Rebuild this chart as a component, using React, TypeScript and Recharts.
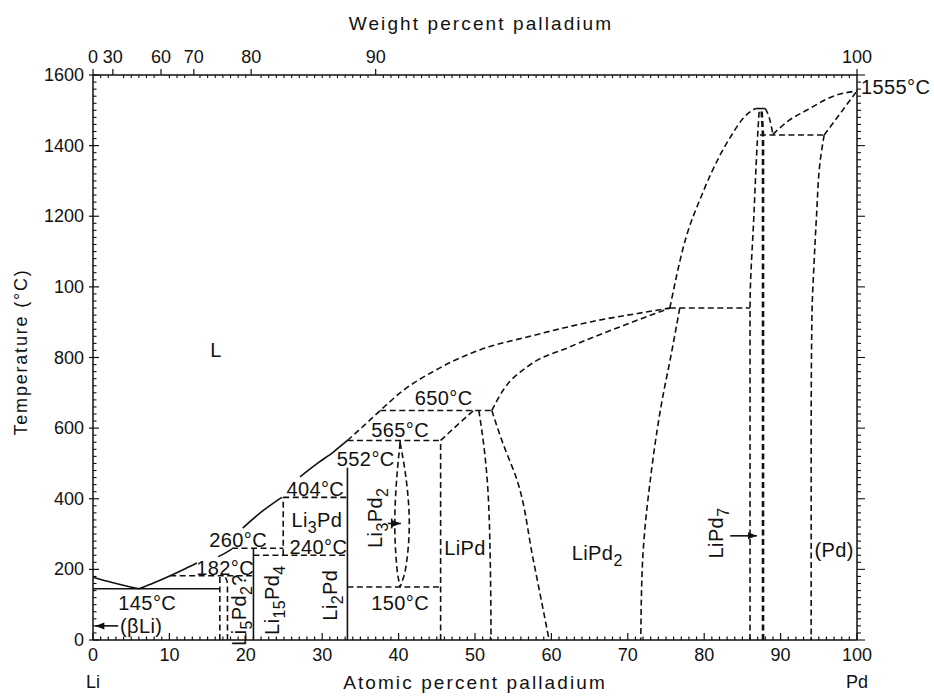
import { ComposedChart, Line, Scatter, XAxis, YAxis } from "recharts";

type Pt = [number, number];

const INK = "#111111";
const FONT = '"Liberation Sans", Arial, Helvetica, sans-serif';

// axes
const atMajor = [0, 10, 20, 30, 40, 50, 60, 70, 80, 90, 100];
const tempMajor = [0, 200, 400, 600, 800, 1000, 1200, 1400, 1600];
const tempLabels = ["0", "200", "400", "600", "800", "100", "1200", "1400", "1600"];
const wtPos = [0, 2.6, 8.9, 13.2, 20.7, 37.0, 100]; // weight % ticks placed on atomic % scale
const wtLabels = ["0", "30", "60", "70", "80", "90", "100"];

const atTicks = Array.from({ length: 101 }, (_, i) => i);
const tempTicks = Array.from({ length: 81 }, (_, i) => i * 20);
const topTicks = [...atTicks.filter(v => !wtPos.some(w => Math.abs(w - v) < 0.45)), ...wtPos];

// solid boundaries (x = at.% Pd, t = °C)
const liqLi: Pt[] = [[0, 178], [2.5, 163], [6, 145]];
const eut145: Pt[] = [[0, 145], [16.6, 145]];
const liqA1: Pt[] = [[6, 145], [8, 162], [10.1, 182], [12, 201], [13.6, 218]];
const liqA2: Pt[] = [[16.4, 236], [17.3, 246], [18.2, 258]];
const liqB: Pt[] = [[19.6, 317], [22, 362], [24.7, 404]];
const liqC: Pt[] = [[27.1, 462], [29.5, 502], [31.5, 533], [33.3, 565]];
const li15Pd4: Pt[] = [[21, 0], [21, 260]];
const li2Pd: Pt[] = [[33.3, 0], [33.3, 488]];

// dashed boundaries
const d182: Pt[] = [[10.1, 182], [21, 182]];
const li5Pd2L: Pt[] = [[16.6, 0], [16.6, 182]];
const li5Pd2R: Pt[] = [[17.6, 0], [17.6, 160], [17.2, 182]];
const d260: Pt[] = [[18.2, 260], [24.9, 260]];
const d240: Pt[] = [[21, 240], [33.3, 240]];
const li3PdL: Pt[] = [[24.9, 240], [24.9, 404]];
const d404: Pt[] = [[24.9, 404], [33.3, 404]];
const d565: Pt[] = [[33.3, 565], [45.5, 565]];
const d150: Pt[] = [[33.3, 150], [45.5, 150]];
const liPdL: Pt[] = [[45.5, 0], [45.5, 565]];
const lensTop: Pt[] = [[40.2, 565], [40.2, 558]];
const lensL: Pt[] = [[40.2, 558], [39.8, 470], [39.5, 331], [39.8, 200], [40.2, 150]];
const lensR: Pt[] = [[40.2, 558], [40.9, 470], [41.4, 331], [40.9, 200], [40.2, 150]];
const liPdPer: Pt[] = [[45.5, 565], [47.6, 607], [49.8, 650]];
const d650: Pt[] = [[37.6, 650], [52.2, 650]];
const liqD: Pt[] = [[33.3, 565], [35.5, 608], [37.6, 650], [40.5, 705], [44.5, 760], [50.7, 822], [57.2, 860], [65.4, 902], [73.3, 932], [75.5, 940]];
const liPdR: Pt[] = [[50.5, 650], [51.1, 560], [51.6, 453], [52, 220], [52.1, 0]];
const liPd2L: Pt[] = [[52.2, 650], [53.6, 560], [55.5, 453], [57.6, 230], [59.7, 0]];
const liPd2Up: Pt[] = [[52.2, 650], [53.7, 708], [56.8, 773], [62.4, 830], [69, 887], [75.5, 940]];
const d940: Pt[] = [[75.5, 940], [86, 940]];
const liPd2R: Pt[] = [[76.8, 940], [75.6, 800], [74.5, 680], [73.6, 560], [72.9, 445], [72.3, 330], [71.9, 207], [71.7, 0]];
const liqE: Pt[] = [[75.5, 940], [77.3, 1115], [79.8, 1266], [82, 1370], [83.6, 1430], [85.2, 1480], [86.7, 1505]];
const cap: Pt[] = [[86.7, 1505], [88, 1505]];
const liqF: Pt[] = [[88, 1505], [88.5, 1480], [89, 1432]];
const liqPd: Pt[] = [[89, 1432], [91, 1470], [93.4, 1500], [96.9, 1540], [100, 1555]];
const d1430: Pt[] = [[87.3, 1430], [95.7, 1430]];
const pdSolidus: Pt[] = [[95.7, 1430], [100, 1555]];
const pdSolvus: Pt[] = [[95.7, 1430], [95.2, 1360], [94.7, 1200], [94.4, 1076], [94.1, 915], [94, 600], [94, 0]];
const liPd7L: Pt[] = [[86, 0], [86, 940], [86.5, 1200], [87, 1430], [87.2, 1500]];
const liPd7R: Pt[] = [[87.7, 0], [87.7, 1430], [87.5, 1505]];

// arrows
const arrowBLi: Pt[] = [[3.3, 40], [0.3, 40]];
const arrowLi3Pd2: Pt[] = [[38.6, 330], [40.3, 330]];
const tickLi3Pd2: Pt[] = [[39.1, 316], [39.1, 344]];
const arrowLiPd7: Pt[] = [[83.4, 295], [86.9, 295]];

// spans the top / right axes so they get a domain
const frame: Pt[] = [[0, 0], [100, 1600]];

type Series = { pts: Pt[]; dash?: boolean; w?: number; curve?: string; head?: "left" | "right" };

const series: Series[] = [
  { pts: liqLi, curve: "monotoneX" },
  { pts: eut145 },
  { pts: liqA1, curve: "monotoneX" },
  { pts: liqA2, curve: "monotoneX" },
  { pts: liqB, curve: "monotoneX" },
  { pts: liqC, curve: "monotoneX" },
  { pts: li15Pd4 },
  { pts: li2Pd },
  { pts: d182, dash: true },
  { pts: li5Pd2L, dash: true },
  { pts: li5Pd2R, dash: true, curve: "monotoneY" },
  { pts: d260, dash: true },
  { pts: d240, dash: true },
  { pts: li3PdL, dash: true },
  { pts: d404, dash: true },
  { pts: d565, dash: true },
  { pts: d150, dash: true },
  { pts: liPdL, dash: true },
  { pts: lensTop, dash: true },
  { pts: lensL, dash: true, curve: "monotoneY" },
  { pts: lensR, dash: true, curve: "monotoneY" },
  { pts: liPdPer, dash: true, curve: "monotoneX" },
  { pts: d650, dash: true },
  { pts: liqD, dash: true, curve: "monotoneX" },
  { pts: liPdR, dash: true, curve: "monotoneY" },
  { pts: liPd2L, dash: true, curve: "monotoneY" },
  { pts: liPd2Up, dash: true, curve: "monotoneX" },
  { pts: d940, dash: true },
  { pts: liPd2R, dash: true, curve: "monotoneY" },
  { pts: liqE, dash: true, curve: "monotoneX" },
  { pts: cap },
  { pts: liqF, dash: true, curve: "monotoneX" },
  { pts: liqPd, dash: true, curve: "monotoneX" },
  { pts: d1430, dash: true },
  { pts: pdSolidus, dash: true },
  { pts: pdSolvus, dash: true, curve: "monotoneY" },
  { pts: liPd7L, dash: true, curve: "monotoneY" },
  { pts: liPd7R, dash: true, w: 2.6 },
  { pts: arrowBLi, head: "left" },
  { pts: arrowLi3Pd2, head: "right" },
  { pts: tickLi3Pd2 },
  { pts: arrowLiPd7, head: "right" },
];

// annotations ("_n" = subscript)
const labels = [
  { x: 16.1, t: 822, text: "L" },
  { x: 7.1, t: 105, text: "145°C" },
  { x: 6.3, t: 40, text: "(βLi)" },
  { x: 17.3, t: 204, text: "182°C" },
  { x: 19.0, t: 283, text: "260°C" },
  { x: 29.1, t: 428, text: "404°C" },
  { x: 29.3, t: 341, text: "Li_3Pd" },
  { x: 29.5, t: 264, text: "240°C" },
  { x: 19.1, t: 85, text: "Li_5Pd_2?", rot: -90 },
  { x: 23.4, t: 113, text: "Li_15Pd_4", rot: -90 },
  { x: 31.0, t: 127, text: "Li_2Pd", rot: -90 },
  { x: 35.7, t: 513, text: "552°C" },
  { x: 40.2, t: 595, text: "565°C" },
  { x: 45.9, t: 685, text: "650°C" },
  { x: 36.9, t: 346, text: "Li_3Pd_2", rot: -90 },
  { x: 48.7, t: 260, text: "LiPd" },
  { x: 40.2, t: 105, text: "150°C" },
  { x: 66.0, t: 246, text: "LiPd_2" },
  { x: 81.5, t: 303, text: "LiPd_7", rot: -90 },
  { x: 97.0, t: 255, text: "(Pd)" },
  { x: 100, t: 1565, text: "1555°C", start: true },
];

const toData = (pts: Pt[]) => pts.map(([x, t]) => ({ x, t }));

function rich(s: string, fs: number) {
  const parts = s.split(/_(\d+)/);
  const out: any[] = [];
  let shift = 0;
  parts.forEach((p, i) => {
    if (!p) return;
    const sub = i % 2 === 1;
    const target = sub ? fs * 0.3 : 0;
    out.push(
      <tspan key={i} dy={target - shift} fontSize={sub ? fs * 0.8 : fs}>
        {p}
      </tspan>
    );
    shift = target;
  });
  return out;
}

function LabelShape(props: any) {
  const { cx, cy, payload } = props;
  const rot = payload.rot || 0;
  const x = payload.start ? cx + 4 : cx;
  return (
    <text
      x={x}
      y={cy + 7}
      textAnchor={payload.start ? "start" : "middle"}
      fontSize={20}
      fontFamily={FONT}
      fill={INK}
      letterSpacing={0.4}
      transform={rot ? `rotate(${rot} ${cx} ${cy})` : undefined}
    >
      {rich(payload.text, 20)}
    </text>
  );
}

function headDot(dir: "left" | "right", last: number) {
  return (p: any) => {
    const { cx, cy, index } = p;
    if (index !== last) return <g key={`d${index}`} />;
    const s = dir === "right" ? -1 : 1;
    return (
      <polygon
        key={`d${index}`}
        points={`${cx},${cy} ${cx + s * 9},${cy - 3.5} ${cx + s * 9},${cy + 3.5}`}
        fill={INK}
      />
    );
  };
}

function BottomTick(props: any) {
  const { x, y, payload } = props;
  const v = payload.value;
  const major = atMajor.includes(v);
  return (
    <g>
      <line x1={x} y1={y} x2={x} y2={y - (major ? 7 : 3.5)} stroke={INK} strokeWidth={1.2} />
      {major && (
        <text x={x} y={y + 21} textAnchor="middle" fontSize={18} fontFamily={FONT} fill={INK}>
          {v}
        </text>
      )}
      {v === 0 && (
        <text x={x} y={y + 48} textAnchor="middle" fontSize={18} fontFamily={FONT} fill={INK}>
          Li
        </text>
      )}
      {v === 100 && (
        <text x={x} y={y + 48} textAnchor="middle" fontSize={18} fontFamily={FONT} fill={INK}>
          Pd
        </text>
      )}
    </g>
  );
}

function TopTick(props: any) {
  const { x, y, payload } = props;
  const idx = wtPos.indexOf(payload.value);
  if (idx < 0) {
    return <line x1={x} y1={y} x2={x} y2={y + 3} stroke={INK} strokeWidth={1.1} />;
  }
  return (
    <g>
      <line x1={x} y1={y} x2={x} y2={y - 6} stroke={INK} strokeWidth={1.2} />
      <text x={x} y={y - 12} textAnchor="middle" fontSize={18} fontFamily={FONT} fill={INK}>
        {wtLabels[idx]}
      </text>
    </g>
  );
}

function LeftTick(props: any) {
  const { x, y, payload } = props;
  const idx = tempMajor.indexOf(payload.value);
  if (idx < 0) {
    return <line x1={x} y1={y} x2={x + 3.5} y2={y} stroke={INK} strokeWidth={1.1} />;
  }
  return (
    <g>
      <line x1={x - 4} y1={y} x2={x + 6} y2={y} stroke={INK} strokeWidth={1.2} />
      <text x={x - 9} y={y + 6} textAnchor="end" fontSize={18} fontFamily={FONT} fill={INK}>
        {tempLabels[idx]}
      </text>
    </g>
  );
}

function RightTick(props: any) {
  const { x, y, payload } = props;
  const major = tempMajor.includes(payload.value);
  return <line x1={x} y1={y} x2={x + (major ? 8 : 4)} y2={y} stroke={INK} strokeWidth={1.1} />;
}

const axisLine = { stroke: INK, strokeWidth: 1.5 };

export default function App() {
  return (
    <div style={{ position: "absolute", left: 0, top: 0, width: 934, height: 696, background: "#fff" }}>
      <ComposedChart width={934} height={696} margin={{ top: 30, right: 0, bottom: 6, left: 33 }}>
        <XAxis xAxisId="b" orientation="bottom" type="number" dataKey="x" domain={[0, 100]} ticks={atTicks}
          interval={0} tickSize={0} tickMargin={0} tickLine={false} tick={<BottomTick />} height={50} axisLine={axisLine} />
        <XAxis xAxisId="t" orientation="top" type="number" dataKey="x" domain={[0, 100]} ticks={topTicks}
          interval={0} tickSize={0} tickMargin={0} tickLine={false} tick={<TopTick />} height={45} axisLine={axisLine} />
        <YAxis yAxisId="l" orientation="left" type="number" dataKey="t" domain={[0, 1600]} ticks={tempTicks}
          interval={0} tickSize={0} tickMargin={0} tickLine={false} tick={<LeftTick />} width={60} axisLine={axisLine} />
        <YAxis yAxisId="r" orientation="right" type="number" dataKey="t" domain={[0, 1600]} ticks={tempTicks}
          interval={0} tickSize={0} tickMargin={0} tickLine={false} tick={<RightTick />} width={77} axisLine={axisLine} />
        <Line xAxisId="t" yAxisId="r" data={toData(frame)} dataKey="t" stroke="none" dot={false}
          activeDot={false} isAnimationActive={false} />
        {series.map((s, i) => (
          <Line
            key={i}
            xAxisId="b"
            yAxisId="l"
            data={toData(s.pts)}
            dataKey="t"
            type={(s.curve || "linear") as any}
            stroke={INK}
            strokeWidth={s.w || 1.6}
            strokeDasharray={s.dash ? "6 3.5" : undefined}
            dot={s.head ? headDot(s.head, s.pts.length - 1) : false}
            activeDot={false}
            isAnimationActive={false}
          />
        ))}
        <Scatter xAxisId="b" yAxisId="l" data={labels} dataKey="t" shape={<LabelShape />} isAnimationActive={false} />
      </ComposedChart>
      <svg width={934} height={696} style={{ position: "absolute", left: 0, top: 0, pointerEvents: "none" }}>
        <text x={481} y={30} textAnchor="middle" fontSize={19} letterSpacing={2.1} fontFamily={FONT} fill={INK}>
          Weight percent palladium
        </text>
        <text x={475} y={689} textAnchor="middle" fontSize={19} letterSpacing={2.1} fontFamily={FONT} fill={INK}>
          Atomic percent palladium
        </text>
        <text x={27} y={352} transform="rotate(-90 27 352)" textAnchor="middle" fontSize={18} letterSpacing={1.8}
          fontFamily={FONT} fill={INK}>
          Temperature (°C)
        </text>
      </svg>
    </div>
  );
}
